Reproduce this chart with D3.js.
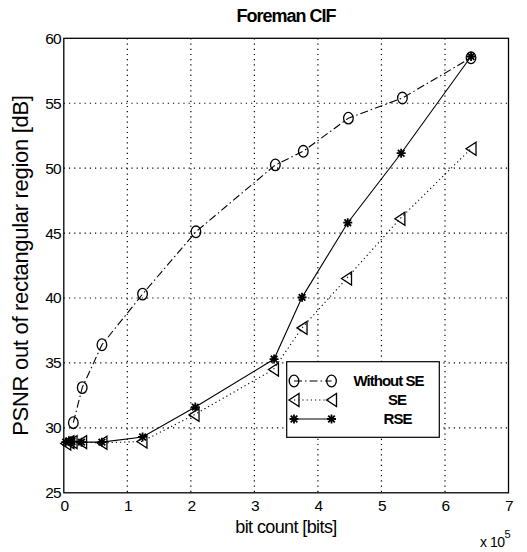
<!DOCTYPE html>
<html><head><meta charset="utf-8">
<script src="https://cdn.jsdelivr.net/npm/d3@7"></script>
<style>
body{margin:0;background:#fff;}
text{font-family:"Liberation Sans",Arial,sans-serif;fill:#000;}
</style></head>
<body><svg id="c" width="527" height="552"></svg>
<script>
// data (bits in units of 1e5)
const withoutSE_x = [0.15, 0.29, 0.60, 1.24, 2.08, 3.33, 3.77, 4.48, 5.33, 6.41];
const withoutSE_y = [30.4, 33.1, 36.4, 40.3, 45.1, 50.25, 51.3, 53.85, 55.4, 58.5];
const SE_x = [0.03, 0.08, 0.13, 0.28, 0.60, 1.23, 2.05, 3.30, 3.75, 4.45, 5.29, 6.41];
const SE_y = [28.8, 28.9, 28.9, 28.9, 28.85, 28.95, 31.0, 34.5, 37.7, 41.5, 46.1, 51.5];
const RSE_x = [0.03, 0.08, 0.13, 0.28, 0.60, 1.24, 2.07, 3.31, 3.75, 4.47, 5.31, 6.41];
const RSE_y = [28.9, 29.0, 28.95, 28.9, 28.9, 29.3, 31.6, 35.3, 40.05, 45.8, 51.15, 58.6];
const xTicks = [0, 1, 2, 3, 4, 5, 6, 7];
const yTicks = [25, 30, 35, 40, 45, 50, 55, 60];
const seriesNames = ["Without SE", "SE", "RSE"];

const svg = d3.select("#c");
const L = 63.8, R = 508.5, T = 38.3, B = 492.8;
const x = d3.scaleLinear().domain([0, 7]).range([L, R]);
const y = d3.scaleLinear().domain([25, 60]).range([B, T]);

// grid
const g = svg.append("g");
g.selectAll(".vg").data(xTicks.slice(1, -1)).enter().append("line")
  .attr("x1", d => x(d)).attr("x2", d => x(d)).attr("y1", T).attr("y2", B)
  .attr("stroke", "#000").attr("stroke-width", 1.2).attr("stroke-dasharray", "1.2,4");
g.selectAll(".hg").data(yTicks.slice(1, -1)).enter().append("line")
  .attr("x1", L).attr("x2", R).attr("y1", d => y(d)).attr("y2", d => y(d))
  .attr("stroke", "#000").attr("stroke-width", 1.2).attr("stroke-dasharray", "1.2,4");

// axes
const xAxis = d3.axisBottom(x).tickValues(xTicks).tickFormat(d3.format("d")).tickSize(0).tickPadding(10);
const yAxis = d3.axisLeft(y).tickValues(yTicks).tickFormat(d3.format("d")).tickSize(0).tickPadding(3);
const gx = svg.append("g").attr("transform", `translate(0,${B})`).call(xAxis);
const gy = svg.append("g").attr("transform", `translate(${L},0)`).call(yAxis);
[gx, gy].forEach(a => {
  a.select(".domain").remove();
  a.selectAll("text").style("font-size", "15.5px").style("letter-spacing", "-0.8px").attr("fill", "#000");
});
gx.selectAll("text").attr("dy", "0.55em");
svg.append("rect").attr("x", L).attr("y", T).attr("width", R - L).attr("height", B - T)
  .attr("fill", "none").attr("stroke", "#000").attr("stroke-width", 1.3);

// markers
function circleM(sel) {
  sel.append("ellipse").attr("rx", 4.8).attr("ry", 5.8).attr("fill", "none")
    .attr("stroke", "#000").attr("stroke-width", 1.3);
}
function triM(sel) {
  sel.append("path").attr("d", "M-5,0L5,-6.5L5,6.5Z").attr("fill", "none")
    .attr("stroke", "#000").attr("stroke-width", 1.3);
}
function starM(sel) {
  sel.append("path").attr("d", "M-4.5,0H4.5M0,-4.5V4.5M-3.3,-3.3L3.3,3.3M-3.3,3.3L3.3,-3.3")
    .attr("stroke", "#000").attr("stroke-width", 1.8);
}
const line = d3.line().x(d => x(d[0])).y(d => y(d[1]));
const series = [
  {xs: withoutSE_x, ys: withoutSE_y, dash: "8,3,1.5,3", m: circleM},
  {xs: SE_x, ys: SE_y, dash: "1.2,3", m: triM},
  {xs: RSE_x, ys: RSE_y, dash: null, m: starM}
];
series.forEach(s => {
  const pts = s.xs.map((v, i) => [v, s.ys[i]]);
  svg.append("path").datum(pts).attr("d", line).attr("fill", "none")
    .attr("stroke", "#000").attr("stroke-width", 1.1)
    .attr("stroke-dasharray", s.dash);
  svg.selectAll(null).data(pts).enter().append("g")
    .attr("transform", d => `translate(${x(d[0])},${y(d[1])})`)
    .each(function () { s.m(d3.select(this)); });
});

// legend
const lg = svg.append("g");
lg.append("rect").attr("x", 286.7).attr("y", 361.7).attr("width", 152.6).attr("height", 75.6)
  .attr("fill", "#fff").attr("stroke", "#000").attr("stroke-width", 1.2);
const rowY = [381, 400, 419];
const textX = [388.5, 397, 397.5];
series.forEach((s, i) => {
  lg.append("line").attr("x1", 294).attr("x2", 331.5).attr("y1", rowY[i]).attr("y2", rowY[i])
    .attr("stroke", "#000").attr("stroke-width", 1.1).attr("stroke-dasharray", s.dash);
  [294, 331.5].forEach(px => {
    const m = lg.append("g").attr("transform", `translate(${px},${rowY[i]})`);
    s.m(m);
  });
  lg.append("text").attr("x", textX[i]).attr("y", rowY[i]).attr("dy", "0.35em")
    .attr("text-anchor", "middle").style("font-size", "15px").style("letter-spacing", "-1px")
    .style("font-weight", "bold").text(seriesNames[i]);
});

// title and labels
svg.append("text").attr("x", 286).attr("y", 22).attr("text-anchor", "middle")
  .style("font-size", "18px").style("font-weight", "bold").style("letter-spacing", "-1px")
  .text("Foreman CIF");
svg.append("text").attr("x", 286).attr("y", 533).attr("text-anchor", "middle")
  .style("font-size", "18px").style("letter-spacing", "-0.6px").text("bit count [bits]");
svg.append("text").attr("transform", `translate(28,${(T + B) / 2}) rotate(-90)`)
  .attr("text-anchor", "middle").style("font-size", "22px").style("letter-spacing", "-0.3px")
  .text("PSNR out of rectangular region [dB]");
const ex = svg.append("text").attr("x", 480).attr("y", 547).style("font-size", "14px").style("letter-spacing", "-0.5px");
ex.append("tspan").text("x 10");
ex.append("tspan").attr("dy", -9).style("font-size", "11px").text("5");
</script></body></html>
